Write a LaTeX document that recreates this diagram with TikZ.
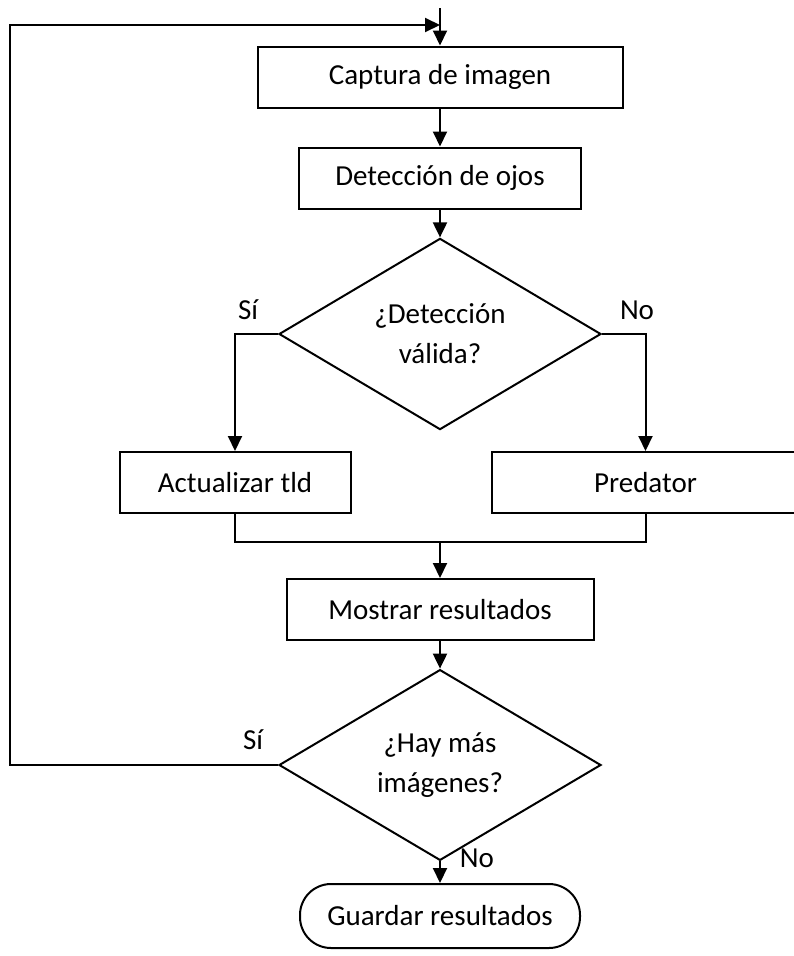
\documentclass[tikz,border=0pt]{standalone}
\usepackage{fontspec}
\setmainfont{Carlito}
\usetikzlibrary{shapes.geometric,arrows.meta}
\begin{document}
\begin{tikzpicture}[x=1pt,y=-1pt,
  line width=2pt,
  every node/.style={font=\fontsize{29}{40}\selectfont},
  procbox/.style={draw,rectangle,inner sep=0pt,minimum height=61pt},
  decision/.style={draw,diamond,inner sep=0pt,align=center,minimum width=322pt,minimum height=174pt},
  terminal/.style={draw,rectangle,rounded corners=31pt,inner sep=0pt,minimum width=280pt,minimum height=64pt},
  flow/.style={-{Triangle[length=15pt,width=14pt]}},
  lbl/.style={inner sep=0pt}]
\useasboundingbox (0,0) rectangle (793,956);

% process steps
\node[procbox,minimum width=365pt] (cap) at (440,77) {Captura de imagen};
\node[procbox,minimum width=282pt] (det) at (440,178) {Detección de ojos};
\node[decision] (d1) at (440,334) {¿Detección\\válida?};
\node[procbox,minimum width=231pt] (act) at (235,482.5) {Actualizar tld};
\node[procbox,minimum width=307pt] (pred) at (645.5,482.5) {Predator};
\node[procbox,minimum width=307pt] (mos) at (440,609.5) {Mostrar resultados};
\node[decision] (d2) at (440,765) {¿Hay más\\imágenes?};
\node[terminal] (guard) at (440,916) {Guardar resultados};

% branch labels
\node[lbl] (si1) at (248,310) {Sí};
\node[lbl] (no1) at (637,310) {No};
\node[lbl] (si2) at (253,740) {Sí};
\node[lbl] (no2) at (477,858) {No};

% helper points
\coordinate (start) at (440,8);
\coordinate (merge) at (440,541.5);
\coordinate (loopBL) at (10,765);
\coordinate (loopTL) at (10,25);
\coordinate (loopEnd) at (440,25);

% connectors
\draw[flow] (start) -- (cap.north);
\draw[flow] (cap.south) -- (det.north);
\draw[flow] (det.south) -- (d1.north);
\draw[flow] (d1.west) -| (act.north);
\draw[flow] (d1.east) -| (pred.north);
\draw (act.south) |- (merge) -| (pred.south);
\draw[flow] (merge) -- (mos.north);
\draw[flow] (mos.south) -- (d2.north);
\draw[flow] (d2.south) -- (guard.north);
\draw[flow] (d2.west) -- (loopBL) -- (loopTL) -- (loopEnd);
\end{tikzpicture}
\end{document}
